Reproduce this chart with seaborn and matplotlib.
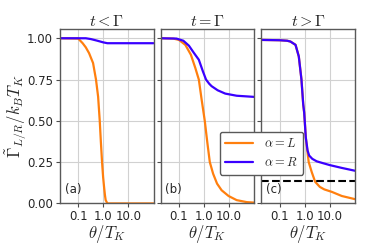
import matplotlib
matplotlib.use("Agg")

import matplotlib.pyplot as plt
import pandas as pd
import seaborn as sns
from matplotlib.lines import Line2D
from matplotlib.ticker import FixedLocator, FixedFormatter, NullLocator

# values, theta/T_K on a log axis
A_L_X = [0.018, 0.1, 0.15, 0.2, 0.27, 0.39, 0.51, 0.62, 0.72, 0.8, 0.89, 0.98, 1.07, 1.16, 1.24, 1.45, 100]
A_L_Y = [1.0, 0.998, 0.97, 0.945, 0.91, 0.85, 0.75, 0.646, 0.5, 0.37, 0.25, 0.16, 0.1, 0.05, 0.02, 0.0, 0.0]
A_R_X = [0.018, 0.2, 0.32, 0.58, 1.0, 1.45, 100]
A_R_Y = [1.0, 1.0, 0.995, 0.985, 0.975, 0.97, 0.97]

B_L_X = [0.018, 0.06, 0.1, 0.18, 0.3, 0.45, 0.62, 0.8, 1.07, 1.35, 1.7, 2.3, 3.3, 5, 9.5, 20, 50, 100]
B_L_Y = [1.0, 0.998, 0.99, 0.96, 0.9, 0.82, 0.75, 0.63, 0.5, 0.37, 0.25, 0.18, 0.12, 0.08, 0.045, 0.02, 0.008, 0.005]
B_R_X = [0.018, 0.08, 0.15, 0.25, 0.4, 0.62, 0.9, 1.2, 1.6, 2.0, 3.5, 7, 20, 100]
B_R_Y = [1.0, 0.998, 0.985, 0.955, 0.91, 0.87, 0.8, 0.75, 0.725, 0.71, 0.685, 0.665, 0.652, 0.645]

C_L_X = [0.018, 0.1, 0.2, 0.27, 0.43, 0.58, 0.74, 0.87, 0.95, 1.0, 1.1, 1.2, 1.44, 1.9, 2.6, 4, 6, 12, 30, 100]
C_L_Y = [0.99, 0.988, 0.985, 0.98, 0.96, 0.89, 0.75, 0.6, 0.55, 0.5, 0.4, 0.35, 0.25, 0.19, 0.131, 0.1, 0.085, 0.07, 0.045, 0.026]
C_R_X = [0.018, 0.1, 0.2, 0.27, 0.43, 0.58, 0.74, 0.87, 0.95, 1.0, 1.1, 1.3, 1.5, 2, 3, 5, 10, 30, 100]
C_R_Y = [0.99, 0.988, 0.985, 0.98, 0.96, 0.89, 0.75, 0.6, 0.55, 0.5, 0.4, 0.32, 0.29, 0.27, 0.255, 0.245, 0.232, 0.215, 0.198]
C_THRESHOLD = 0.137

TITLES = [r"$t<\Gamma$", r"$t=\Gamma$", r"$t>\Gamma$"]
PANEL_TAGS = ["(a)", "(b)", "(c)"]
X_TICKS = [0.1, 1.0, 10.0]
X_TICK_LABELS = ["0.1", "1.0", "10.0"]
Y_TICKS = [0.0, 0.25, 0.5, 0.75, 1.0]

ORANGE, BLUE = "#ff7f0e", "#3a00ff"


def panel_frame(lx, ly, rx, ry):
    left = pd.DataFrame({"theta": lx, "gamma": ly, "alpha": "L"})
    right = pd.DataFrame({"theta": rx, "gamma": ry, "alpha": "R"})
    return pd.concat([left, right], ignore_index=True)


panels = [
    panel_frame(A_L_X, A_L_Y, A_R_X, A_R_Y),
    panel_frame(B_L_X, B_L_Y, B_R_X, B_R_Y),
    panel_frame(C_L_X, C_L_Y, C_R_X, C_R_Y),
]

sns.set_theme(style="whitegrid")
plt.rcParams["mathtext.fontset"] = "cm"
plt.rcParams["font.family"] = ["DejaVu Sans"]

fig, axes = plt.subplots(1, 3, figsize=(3.74, 2.49), dpi=100, sharey=True)
fig.subplots_adjust(left=0.16, right=0.949, bottom=0.183, top=0.8835, wspace=0.075)

for i, (ax, data) in enumerate(zip(axes, panels)):
    sns.lineplot(data=data, x="theta", y="gamma", hue="alpha",
                 palette={"L": ORANGE, "R": BLUE}, hue_order=["L", "R"],
                 linewidth=1.6, legend=False, ax=ax)
    if i == 2:
        ax.axhline(C_THRESHOLD, color="black", linestyle="--", linewidth=1.5)
    ax.set_xscale("log")
    ax.set_xlim(0.0185, 100)
    ax.set_ylim(0, 1.056)
    ax.xaxis.set_major_locator(FixedLocator(X_TICKS))
    ax.xaxis.set_major_formatter(FixedFormatter(X_TICK_LABELS))
    ax.xaxis.set_minor_locator(NullLocator())
    ax.set_yticks(Y_TICKS)
    ax.set_yticklabels(["%.2f" % v for v in Y_TICKS])
    ax.tick_params(axis="both", labelsize=8.5, length=3, width=0.8,
                   color="0.3", pad=2, direction="out", bottom=True, left=True)
    ax.grid(True, color="0.82", linewidth=0.8)
    for spine in ax.spines.values():
        spine.set_color("0.35")
        spine.set_linewidth(1.0)
    ax.set_title(TITLES[i], fontsize=11.5, pad=2)
    ax.set_xlabel(r"$\theta/T_K$", fontsize=12, labelpad=0)
    ax.set_ylabel("")
    ax.text(0.05, 0.06, PANEL_TAGS[i], transform=ax.transAxes, fontsize=8.5)

axes[0].set_ylabel(r"$\tilde{\Gamma}_{L/R}/k_BT_K$", fontsize=12)
axes[0].yaxis.set_label_coords(-0.33, 0.5)

handles = [Line2D([], [], color=ORANGE, linewidth=1.6),
           Line2D([], [], color=BLUE, linewidth=1.6)]
leg = fig.legend(handles, [r"$\alpha=L$", r"$\alpha=R$"], loc="upper left",
                 bbox_to_anchor=(0.587, 0.471), borderaxespad=0, fontsize=9,
                 handlelength=2.2, handletextpad=0.9, borderpad=0.45,
                 labelspacing=0.45, frameon=True, fancybox=True,
                 framealpha=1, edgecolor="0.35")
leg.get_frame().set_linewidth(1.0)

fig.savefig("out.png", dpi=100)
plt.close(fig)
